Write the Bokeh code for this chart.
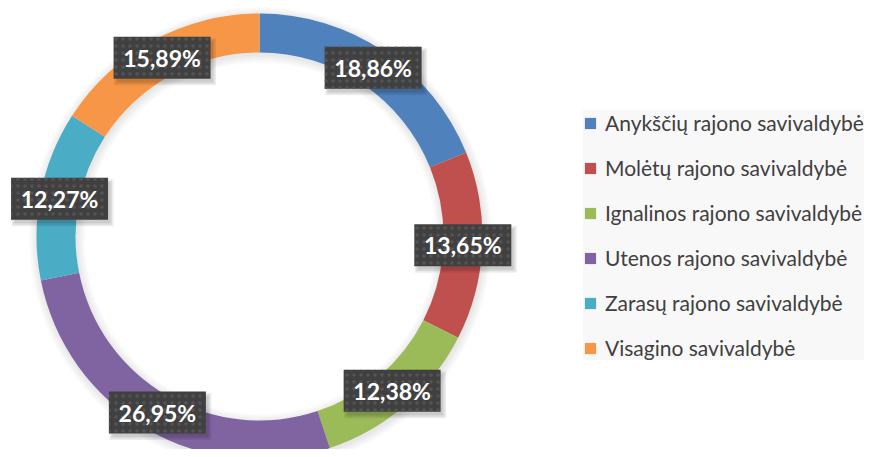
import math
from bokeh.plotting import figure
from bokeh.models import ColumnDataSource, Range1d, Legend, LegendItem
from bokeh.core.properties import value
from bokeh.embed import file_html
from bokeh.resources import INLINE

names = ["Anykščių rajono savivaldybė", "Molėtų rajono savivaldybė", "Ignalinos rajono savivaldybė",
         "Utenos rajono savivaldybė", "Zarasų rajono savivaldybė", "Visagino savivaldybė"]
shares = [18.86, 13.65, 12.38, 26.95, 12.27, 15.89]
labels = ["18,86%", "13,65%", "12,38%", "26,95%", "12,27%", "15,89%"]
colors = ["#4f81bd", "#c0504d", "#9bbb59", "#8064a2", "#4bacc6", "#f79646"]

W, H = 871, 449
# data coordinates: x = pixel x, y = 457 - pixel y
cx, cy = 259, 457 - 236
r_in, r_out = 184, 223

total = sum(shares)
starts, ends, mids = [], [], []
cum = 0.0
for s in shares:
    a0 = math.pi / 2 - 2 * math.pi * cum / total
    cum += s
    a1 = math.pi / 2 - 2 * math.pi * cum / total
    starts.append(a0)
    ends.append(a1)
    mids.append((a0 + a1) / 2)

r_mid = (r_in + r_out) / 2
lx = [cx + r_mid * math.cos(m) for m in mids]
ly = [cy + r_mid * math.sin(m) for m in mids]

p = figure(width=W, height=H, output_backend="svg", toolbar_location=None,
           x_range=Range1d(0, W), y_range=Range1d(457 - H, 457),
           min_border=0, outline_line_color=None)
p.axis.visible = False
p.grid.visible = False
p.background_fill_color = "white"

# soft shadow around the ring
for k in range(6):
    p.annulus(x=[cx + 1], y=[cy - 2], inner_radius=r_in - 1 - k * 1.5, outer_radius=r_out + 1 + k * 1.5,
              fill_color="black", fill_alpha=0.016, line_color=None)

src = ColumnDataSource(dict(name=names, start=starts, end=ends, color=colors))
wedges = p.annular_wedge(x=cx, y=cy, inner_radius=r_in, outer_radius=r_out,
                         start_angle="start", end_angle="end", direction="clock",
                         fill_color="color", line_color=None, source=src)

# label boxes with shadow
lsrc = ColumnDataSource(dict(x=lx, y=ly, text=labels))
for k in range(3):
    p.rect(x=[v + 3 for v in lx], y=[v - 4 for v in ly], width=96 + 3 * k, height=41 + 3 * k,
           width_units="screen", height_units="screen",
           fill_color="black", fill_alpha=0.07, line_color=None)
p.rect(x="x", y="y", width=97, height=42, width_units="screen", height_units="screen",
       fill_color="#404040", line_color=None, hatch_pattern="dot", hatch_color="#545454",
       hatch_scale=7, hatch_weight=1, source=lsrc)
p.text(x="x", y="y", text="text", text_color="white", text_font=value("Lato"),
       text_font_style="bold", text_font_size="23px", text_align="center",
       text_baseline="middle", source=lsrc)

items = [LegendItem(label=names[i], renderers=[wedges], index=i) for i in range(len(names))]
legend = Legend(items=items, location=(583, 89), orientation="vertical",
                background_fill_color="#f8f8f8", background_fill_alpha=1.0,
                border_line_color=None, padding=13, spacing=20, margin=0,
                glyph_width=14, glyph_height=14, label_standoff=8,
                label_text_font="Lato", label_text_font_size="21px",
                label_text_color="#404040", label_text_baseline="middle")
p.add_layout(legend)

open("out.html", "w").write(file_html(p, INLINE))
